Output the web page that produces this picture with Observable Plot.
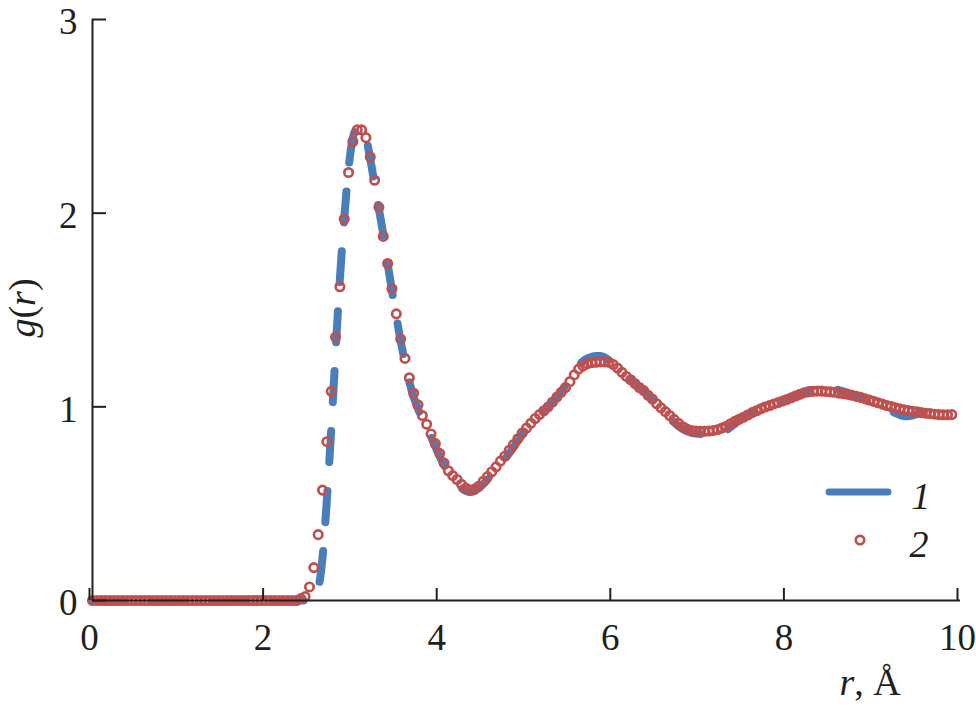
<!DOCTYPE html>
<html><head><meta charset="utf-8">
<script src="https://cdn.jsdelivr.net/npm/d3@7"></script>
<script src="https://cdn.jsdelivr.net/npm/@observablehq/plot@0.6"></script>
<style>body{margin:0;background:#fff;}</style>
</head><body><div id="chart"></div>
<script>
// Series 1 (dashed blue line)
const rBlue = [0,0.5,1,1.5,2,2.5,
2.55,2.6,2.65,2.7,2.75,2.8,2.85,2.9,2.95,
3,3.05,3.1,3.15,3.2,3.25,3.3,3.35,3.4,3.45,3.5,3.55,3.6,3.65,3.7,3.75,3.8,3.85,3.9,3.95,
4,4.05,4.1,4.15,4.2,4.25,4.3,4.35,4.4,4.45,4.5,4.55,4.6,4.65,4.7,4.75,4.8,4.85,4.9,4.95,
5,5.05,5.1,5.15,5.2,5.25,5.3,5.35,5.4,5.45,5.5,5.55,5.6,5.65,5.7,5.75,5.8,5.85,5.9,5.95,
6,6.05,6.1,6.15,6.2,6.25,6.3,6.35,6.4,6.45,6.5,6.55,6.6,6.65,6.7,6.75,6.8,6.85,6.9,6.95,
7,7.05,7.1,7.15,7.2,7.25,7.3,7.35,7.4,7.45,7.5,7.55,7.6,7.65,7.7,7.75,7.8,7.85,7.9,7.95,
8,8.05,8.1,8.15,8.2,8.25,8.3,8.35,8.4,8.45,8.5,8.55,8.6,8.65,8.7,8.75,8.8,8.85,8.9,8.95,
9,9.05,9.1,9.15,9.2,9.25,9.3,9.35,9.4,9.45,9.5,9.55,9.6,9.65,9.7,9.75,9.8,9.85];
const gBlue = [0,0,0,0,0,0,
0.01,0.06,0.22,0.52,0.88,1.28,1.66,1.97,2.23,
2.39,2.44,2.44,2.39,2.28,2.15,2.02,1.89,1.74,1.60,1.47,1.34,1.23,1.13,1.05,0.99,0.935,0.89,0.845,0.795,
0.745,0.70,0.66,0.625,0.60,0.58,0.566,0.56,0.565,0.58,0.60,0.625,0.65,0.675,0.70,0.73,0.76,0.79,0.825,0.855,
0.885,0.91,0.935,0.955,0.975,1.00,1.025,1.05,1.08,1.11,1.145,1.18,1.21,1.235,1.25,1.258,1.262,1.262,1.256,1.24,
1.22,1.20,1.18,1.16,1.14,1.12,1.10,1.08,1.06,1.035,1.01,0.985,0.96,0.94,0.92,0.90,0.885,0.873,0.866,0.862,
0.86,0.857,0.855,0.855,0.858,0.865,0.877,0.895,0.912,0.93,0.945,0.958,0.97,0.98,0.99,1.0,1.008,1.016,1.024,1.032,
1.04,1.05,1.06,1.07,1.078,1.085,1.09,1.094,1.097,1.098,1.096,1.092,1.086,1.08,1.072,1.064,1.055,1.046,1.036,1.026,
1.016,1.006,0.996,0.987,0.978,0.968,0.958,0.952,0.952,0.956,0.962,0.965,0.962,0.955,0.945,0.938,0.935,0.936];

// Series 2 (red open circles)
const rRed = [0,0.05,0.1,0.15,0.2,0.25,0.3,0.35,0.4,0.45,0.5,0.55,0.6,0.65,0.7,0.75,0.8,0.85,0.9,0.95,
1,1.05,1.1,1.15,1.2,1.25,1.3,1.35,1.4,1.45,1.5,1.55,1.6,1.65,1.7,1.75,1.8,1.85,1.9,1.95,
2,2.05,2.1,2.15,2.2,2.25,2.3,2.35,2.4,2.45,2.5,2.55,2.6,2.65,2.7,2.75,2.8,2.85,2.9,2.95,
3,3.05,3.1,3.15,3.2,3.25,3.3,3.35,3.4,3.45,3.5,3.55,3.6,3.65,3.7,3.75,3.8,3.85,3.9,3.95,
4,4.05,4.1,4.15,4.2,4.25,4.3,4.35,4.4,4.45,4.5,4.55,4.6,4.65,4.7,4.75,4.8,4.85,4.9,4.95,
5,5.05,5.1,5.15,5.2,5.25,5.3,5.35,5.4,5.45,5.5,5.55,5.6,5.65,5.7,5.75,5.8,5.85,5.9,5.95,
6,6.05,6.1,6.15,6.2,6.25,6.3,6.35,6.4,6.45,6.5,6.55,6.6,6.65,6.7,6.75,6.8,6.85,6.9,6.95,
7,7.05,7.1,7.15,7.2,7.25,7.3,7.35,7.4,7.45,7.5,7.55,7.6,7.65,7.7,7.75,7.8,7.85,7.9,7.95,
8,8.05,8.1,8.15,8.2,8.25,8.3,8.35,8.4,8.45,8.5,8.55,8.6,8.65,8.7,8.75,8.8,8.85,8.9,8.95,
9,9.05,9.1,9.15,9.2,9.25,9.3,9.35,9.4,9.45,9.5,9.55,9.6,9.65,9.7,9.75,9.8,9.85,9.9];
const gRed = [0,0,0,0,0,0,0,0,0,0,0,0,0,0,0,0,0,0,0,0,
0,0,0,0,0,0,0,0,0,0,0,0,0,0,0,0,0,0,0,0,
0,0,0,0,0,0,0,0,0.01,0.02,0.07,0.17,0.34,0.57,0.82,1.08,1.36,1.62,1.97,2.21,
2.37,2.43,2.43,2.39,2.29,2.17,2.03,1.88,1.74,1.61,1.48,1.35,1.25,1.15,1.07,1.01,0.955,0.91,0.86,0.81,
0.76,0.71,0.67,0.645,0.625,0.60,0.58,0.57,0.575,0.59,0.615,0.64,0.665,0.69,0.72,0.745,0.775,0.805,0.835,0.865,
0.89,0.915,0.94,0.96,0.98,1.00,1.025,1.05,1.075,1.10,1.13,1.165,1.195,1.21,1.222,1.228,1.23,1.232,1.232,1.23,
1.218,1.20,1.178,1.157,1.14,1.12,1.10,1.084,1.06,1.04,1.016,0.995,0.975,0.955,0.935,0.915,0.897,0.885,0.878,0.875,
0.874,0.874,0.875,0.878,0.882,0.89,0.90,0.913,0.925,0.936,0.946,0.958,0.97,0.98,0.99,0.999,1.007,1.015,1.022,1.03,
1.038,1.047,1.056,1.065,1.073,1.077,1.08,1.081,1.081,1.079,1.077,1.075,1.071,1.068,1.065,1.06,1.054,1.049,1.042,1.035,
1.028,1.021,1.014,1.007,1.001,0.995,0.99,0.985,0.981,0.977,0.974,0.97,0.967,0.965,0.962,0.96,0.959,0.959,0.96];

const xTicks = [0,2,4,6,8,10];
const yTicks = [0,1,2,3];
const seriesNames = ["1","2"];

const blue = "#4a7ebb", red = "#c0504d", ink = "#231f20";
const blueData = rBlue.map((r,i)=>({r, g:gBlue[i]}));
const redData = rRed.map((r,i)=>({r, g:gRed[i]}));
const fontFam = "'Liberation Serif','Times New Roman',Times,serif";

const plot = Plot.plot({
  width: 976, height: 710,
  marginLeft: 92, marginRight: 16, marginTop: 19, marginBottom: 110,
  style: {fontFamily: fontFam, fontSize: "37px", background: "#fff", color: ink},
  x: {domain: [0,10]},
  y: {domain: [0,3]},
  marks: [
    Plot.line(blueData, {x:"r", y:"g", stroke: blue, strokeWidth: 8, strokeDasharray: "31,29", strokeLinecap: "round", curve: "monotone-x"}),
    Plot.dot(redData, {x:"r", y:"g", r: 4.2, stroke: red, strokeWidth: 2.7, fill: "none"}),
    Plot.ruleX([0], {stroke: ink, strokeWidth: 2}),
    Plot.ruleY([0], {stroke: ink, strokeWidth: 2}),
    Plot.axisX({ticks: xTicks, tickFormat: d => String(d), tickSize: -12, tickPadding: 35, label: null, stroke: ink, strokeWidth: 2, fill: ink, fontSize: 37, dx: -3}),
    Plot.axisY({ticks: yTicks, tickFormat: () => "", tickSize: -14, label: null, stroke: ink, strokeWidth: 2}),
    Plot.axisY({ticks: yTicks, tickFormat: d => String(d), tickSize: 0, tickPadding: 15, label: null, fill: ink, fontSize: 37, dy: 3})
  ]
});
document.getElementById("chart").appendChild(plot);

const svg = d3.select(plot);
// y label g(r)
const yl = svg.append("text").attr("transform","translate(35,308) rotate(-90)")
  .attr("text-anchor","middle").attr("font-family",fontFam).attr("font-size",38).attr("fill",ink);
yl.append("tspan").attr("font-style","italic").text("g");
yl.append("tspan").text("(");
yl.append("tspan").attr("font-style","italic").text("r");
yl.append("tspan").text(")");
// x label r, Å
const xl = svg.append("text").attr("x",870).attr("y",695)
  .attr("text-anchor","middle").attr("font-family",fontFam).attr("font-size",38).attr("fill",ink);
xl.append("tspan").attr("font-style","italic").text("r");
xl.append("tspan").text(", Å");
// legend
const lg = svg.append("g");
lg.append("line").attr("x1",829).attr("x2",888).attr("y1",492).attr("y2",492)
  .attr("stroke",blue).attr("stroke-width",7).attr("stroke-linecap","round");
lg.append("circle").attr("cx",860).attr("cy",540).attr("r",4.2).attr("fill","none").attr("stroke",red).attr("stroke-width",2.7);
lg.append("text").attr("x",921).attr("y",509).attr("font-style","italic").attr("font-family",fontFam).attr("font-size",38).attr("fill",ink).text(seriesNames[0]);
lg.append("text").attr("x",919).attr("y",557).attr("font-style","italic").attr("font-family",fontFam).attr("font-size",38).attr("fill",ink).text(seriesNames[1]);
</script>
</body></html>
